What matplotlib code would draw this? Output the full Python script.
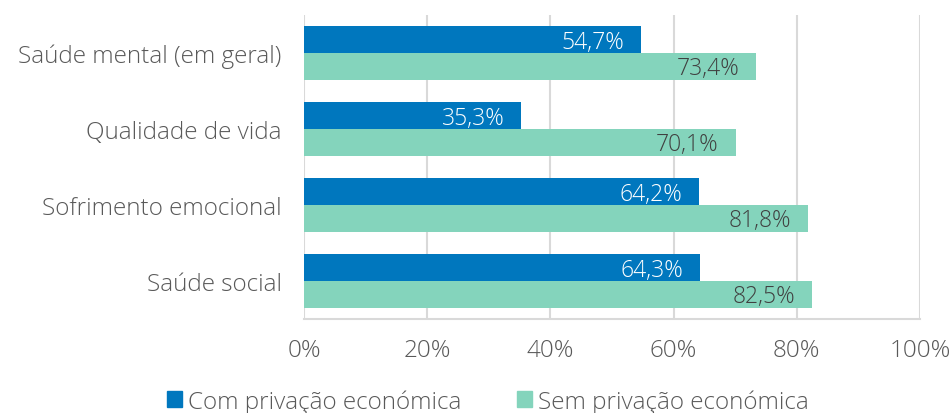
import numpy as np
import matplotlib.pyplot as plt
from matplotlib.patches import Patch

categories = ['Saúde mental (em geral)', 'Qualidade de vida',
              'Sofrimento emocional', 'Saúde social']
com_privacao = [54.7, 35.3, 64.2, 64.3]
sem_privacao = [73.4, 70.1, 81.8, 82.5]
series_names = ['Com privação económica', 'Sem privação económica']

blue = '#0077BE'
green = '#84D4BC'
text_gray = '#595959'
grid_gray = '#D9D9D9'
fs = 17.5

plt.rcParams['font.family'] = ['Open Sans', 'DejaVu Sans']
plt.rcParams['font.weight'] = 'light'

fig = plt.figure(figsize=(9.51, 4.14), dpi=100)
ax = fig.add_axes([304 / 951, 94 / 414, 616 / 951, 304 / 414])

y = np.arange(len(categories))
h = 0.355
bars1 = ax.barh(y - h / 2, com_privacao, height=h, color=blue, zorder=3)
bars2 = ax.barh(y + h / 2, sem_privacao, height=h, color=green, zorder=3)

def fmt(v):
    return f'{v:.1f}%'.replace('.', ',')

# value labels sit inside the end of each bar
for bars, vals, col in [(bars1, com_privacao, 'white'), (bars2, sem_privacao, '#404040')]:
    for b, v in zip(bars, vals):
        ax.annotate(fmt(v), xy=(v, b.get_y() + b.get_height() / 2),
                    xytext=(-17, -2), textcoords='offset pixels',
                    ha='right', va='center', color=col, fontsize=16.5, zorder=4)

ax.set_xlim(0, 100)
ax.set_ylim(len(categories) - 0.5, -0.5)
ax.set_xticks(np.arange(0, 101, 20))
ax.set_xticklabels([f'{t}%' for t in range(0, 101, 20)])
ax.set_yticks(y)
ax.set_yticklabels(categories)
ax.tick_params(axis='both', length=0, labelsize=fs, labelcolor=text_gray)
ax.tick_params(axis='y', pad=16)
ax.tick_params(axis='x', pad=14)

ax.grid(axis='x', color=grid_gray, linewidth=1.5, zorder=0)
for side in ['top', 'left', 'right']:
    ax.spines[side].set_visible(False)
ax.spines['bottom'].set_color(grid_gray)
ax.spines['bottom'].set_linewidth(1.5)

handles = [Patch(color=blue), Patch(color=green)]
fig.legend(handles, series_names, loc='lower center', bbox_to_anchor=(0.513, -0.055),
           ncol=2, frameon=False, fontsize=fs, labelcolor=text_gray,
           handlelength=0.62, handleheight=0.62, handletextpad=0.25, columnspacing=2.3)

fig.savefig('out.png', dpi=100)
